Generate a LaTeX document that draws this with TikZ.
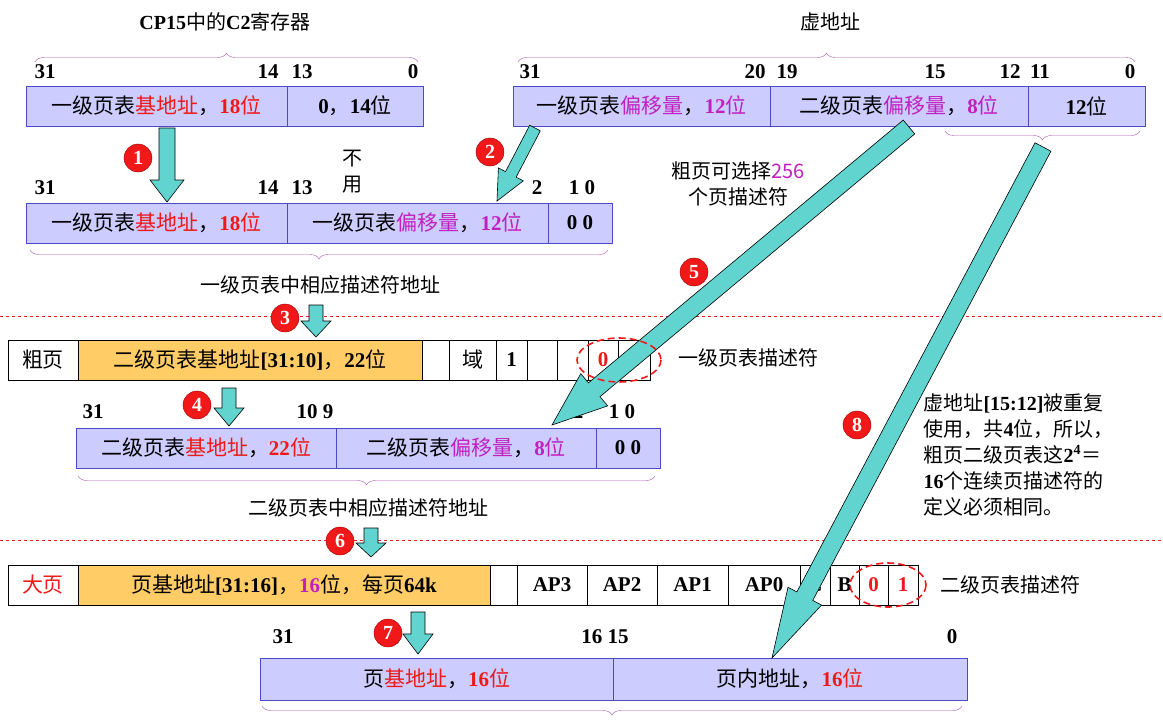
\documentclass[tikz,border=0pt]{standalone}
\usepackage{fontspec}
\setmainfont{Noto Sans CJK SC}
\newfontfamily\numfont{Liberation Serif}
\usetikzlibrary{calc,decorations.pathreplacing}
\definecolor{boxfill}{HTML}{CCCCFF}
\definecolor{boxline}{HTML}{4A4AC8}
\definecolor{ofill}{HTML}{FFCC66}
\definecolor{afill}{HTML}{62D4D0}
\definecolor{mred}{HTML}{F01818}
\definecolor{mmag}{HTML}{C020C0}
\definecolor{brc}{HTML}{B050B0}
\newcommand\nm[1]{{\numfont\bfseries #1}}
\newcommand\rd[1]{\textcolor{mred}{#1}}
\newcommand\mg[1]{\textcolor{mmag}{#1}}
% block arrow: start, tip, shaft half width, head half width, head length
\newcommand\blkarrow[5]{%
  \coordinate (hb) at ($(#2)!#5pt!(#1)$);
  \filldraw[fill=afill,draw=black,line width=0.6pt]
    ($(#1)!#3pt!90:(#2)$) -- ($(hb)!#3pt!90:(#2)$) -- ($(hb)!#4pt!90:(#2)$)
    -- (#2) -- ($(hb)!#4pt!-90:(#2)$) -- ($(hb)!#3pt!-90:(#2)$)
    -- ($(#1)!#3pt!-90:(#2)$) -- cycle;}
\tikzset{
  reg/.style={draw=boxline,fill=boxfill,minimum height=40pt,inner sep=0pt,font=\fontsize{21}{23}\selectfont},
  cell/.style={draw=black,line width=0.8pt,minimum height=40pt,inner sep=0pt,font=\fontsize{21}{23}\selectfont},
  bit/.style={font=\fontsize{21}{23}\selectfont},
  lbl/.style={font=\fontsize{20}{26}\selectfont},
  num/.style={circle,fill=mred,draw=red!60!black,minimum size=28pt,inner sep=0pt,text=white,font=\fontsize{20}{22}\numfont\bfseries},
  brc/.style={draw=brc,decorate,decoration={brace,amplitude=9pt}},
  sep/.style={draw=mred,dashed,line width=0.8pt},
  oval/.style={draw=mred,line width=1.6pt,dash pattern=on 7pt off 4pt},
}
\begin{document}
\begin{tikzpicture}[x=1pt,y=-1pt]
  \useasboundingbox (0,0) rectangle (1163,721);

  % CP15 C2 register
  \node[lbl] (t1) at (225,22) {\nm{CP15}中的\nm{C2}寄存器};
  \draw[brc] (35,62) -- (418,62);
  \foreach \x/\t in {45/31,268/14,302/13,413/0} \node[bit] at (\x,72) {\nm{\t}};
  \node[reg,minimum width=261pt] (c2a) at (156.5,106) {一级页表\rd{基地址}，\rd{\nm{18}位}};
  \node[reg,minimum width=136pt] (c2b) at (355,106) {\nm{0}，\nm{14}位};

  % virtual address
  \node[lbl] (t2) at (830,22) {虚地址};
  \draw[brc] (518,62) -- (1135,62);
  \foreach \x/\t in {530/31,755/20,787/19,935/15,1010/12,1040/11,1130/0} \node[bit] at (\x,72) {\nm{\t}};
  \node[reg,minimum width=257pt] (va) at (641.5,106) {一级页表\mg{偏移量}，\mg{\nm{12}位}};
  \node[reg,minimum width=258pt] (vb) at (899,106) {二级页表\mg{偏移量}，\mg{\nm{8}位}};
  \node[reg,minimum width=117pt] (vc) at (1086.5,106) {\nm{12}位};
  \draw[brc] (1140,131) -- (945,131);

  % first level descriptor address
  \node[lbl,align=center] (nu) at (352,172) {不\\用};
  \foreach \x/\t in {45/31,268/14,302/13,537/2,582/{1 0}} \node[bit] at (\x,188) {\nm{\t}};
  \node[reg,minimum width=261pt] (d1a) at (156.5,223) {一级页表\rd{基地址}，\rd{\nm{18}位}};
  \node[reg,minimum width=261pt] (d1b) at (417.5,223) {一级页表\mg{偏移量}，\mg{\nm{12}位}};
  \node[reg,minimum width=64pt] (d1c) at (580,223) {\nm{0 0}};
  \draw[brc] (608,250) -- (30,250);
  \node[lbl] (t3) at (320,285) {一级页表中相应描述符地址};
  \node[lbl,align=center] (t5) at (738,184) {粗页可选择\mg{256}\\个页描述符};

  \draw[sep] (0,316) -- (1163,316);

  % coarse page descriptor
  \node[cell,minimum width=70pt] (cp0) at (43,360) {粗页};
  \node[cell,fill=ofill,minimum width=344pt] (cp1) at (250,360) {二级页表基地址\nm{[31:10]}，\nm{22}位};
  \foreach \a/\b/\t [count=\i from 2] in {422/449/{},449/496/域,496/527/\nm{1},527/557/{},557/588/{},588/618/\rd{\nm{0}},618/650/\rd{\nm{1}}}
    \node[cell,minimum width=\b pt-\a pt] (cp\i) at ({(\a+\b)/2},360) {\t};
  \node[lbl] (t4) at (748,358) {一级页表描述符};

  % second level descriptor address
  \foreach \x/\t in {93/31,315/{10 9},578/2,622/{1 0}} \node[bit] at (\x,412) {\nm{\t}};
  \node[reg,minimum width=260pt] (s2a) at (206,448) {二级页表\rd{基地址}，\rd{\nm{22}位}};
  \node[reg,minimum width=260pt] (s2b) at (466,448) {二级页表\mg{偏移量}，\mg{\nm{8}位}};
  \node[reg,minimum width=64pt] (s2c) at (628,448) {\nm{0 0}};
  \draw[brc] (655,476) -- (78,476);
  \node[lbl] (t6) at (368,508) {二级页表中相应描述符地址};
  \node[lbl,anchor=north west,align=left] (t8) at (920,390)
    {虚地址\nm{[15:12]}被重复\\使用，共\nm{4}位，所以，\\粗页二级页表这\nm{2}\textsuperscript{\nm{4}}＝\\\nm{16}个连续页描述符的\\定义必须相同。};

  \draw[sep] (0,540) -- (1163,540);

  % large page descriptor
  \node[cell,minimum width=70pt] (lp0) at (43,585) {\rd{大页}};
  \node[cell,fill=ofill,minimum width=412pt] (lp1) at (284,585) {页基地址\nm{[31:16]}，\mg{\nm{16}}位，每页\nm{64k}};
  \foreach \a/\b/\t [count=\i from 2] in {490/517/{},517/587/\nm{AP3},587/657/\nm{AP2},657/728/\nm{AP1},728/800/\nm{AP0},800/830/\nm{C},830/859/\nm{B},859/888/\rd{\nm{0}},888/918/\rd{\nm{1}}}
    \node[cell,minimum width=\b pt-\a pt] (lp\i) at ({(\a+\b)/2},585) {\t};
  \node[lbl] (t7) at (1010,585) {二级页表描述符};

  % physical address
  \foreach \x/\t in {283/31,605/{16 15},952/0} \node[bit] at (\x,637) {\nm{\t}};
  \node[reg,minimum width=353pt,minimum height=42pt] (pa) at (436.5,679) {页\rd{基地址}，\rd{\nm{16}位}};
  \node[reg,minimum width=354pt,minimum height=42pt] (pb) at (790,679) {页内地址，\rd{\nm{16}位}};
  \draw[brc] (962,706) -- (262,706);

  % arrows
  \coordinate (a1s) at (167,128); \coordinate (a1t) at (167,202);
  \coordinate (a2s) at (535,128); \coordinate (a2t) at (497,201);
  \coordinate (a3s) at (316,305); \coordinate (a3t) at (316,337);
  \coordinate (a4s) at (229,388); \coordinate (a4t) at (229,426);
  \coordinate (a5s) at (909,127); \coordinate (a5t) at (552,425);
  \coordinate (a6s) at (371,528); \coordinate (a6t) at (371,557);
  \coordinate (a7s) at (418,612); \coordinate (a7t) at (418,654);
  \coordinate (a8s) at (1043,147); \coordinate (a8t) at (772,658);
  \blkarrow{a1s}{a1t}{8}{17}{22}
  \blkarrow{a2s}{a2t}{6}{14}{30}
  \blkarrow{a3s}{a3t}{7}{15}{16}
  \blkarrow{a4s}{a4t}{7}{15}{18}
  \blkarrow{a5s}{a5t}{9}{21}{55}
  \blkarrow{a6s}{a6t}{7}{15}{14}
  \blkarrow{a7s}{a7t}{7}{15}{20}
  \blkarrow{a8s}{a8t}{9}{19}{70}

  % descriptor type bits
  \draw[oval] (619,360) ellipse (42 and 22);
  \draw[oval] (888,585) ellipse (38 and 22);

  % step numbers
  \foreach \n/\x/\y in {1/138/158,2/490/152,3/285/318,4/197/405,5/694/272,6/340/541,7/388/633,8/857/425}
    \node[num] (n\n) at (\x,\y) {\n};
\end{tikzpicture}
\end{document}
